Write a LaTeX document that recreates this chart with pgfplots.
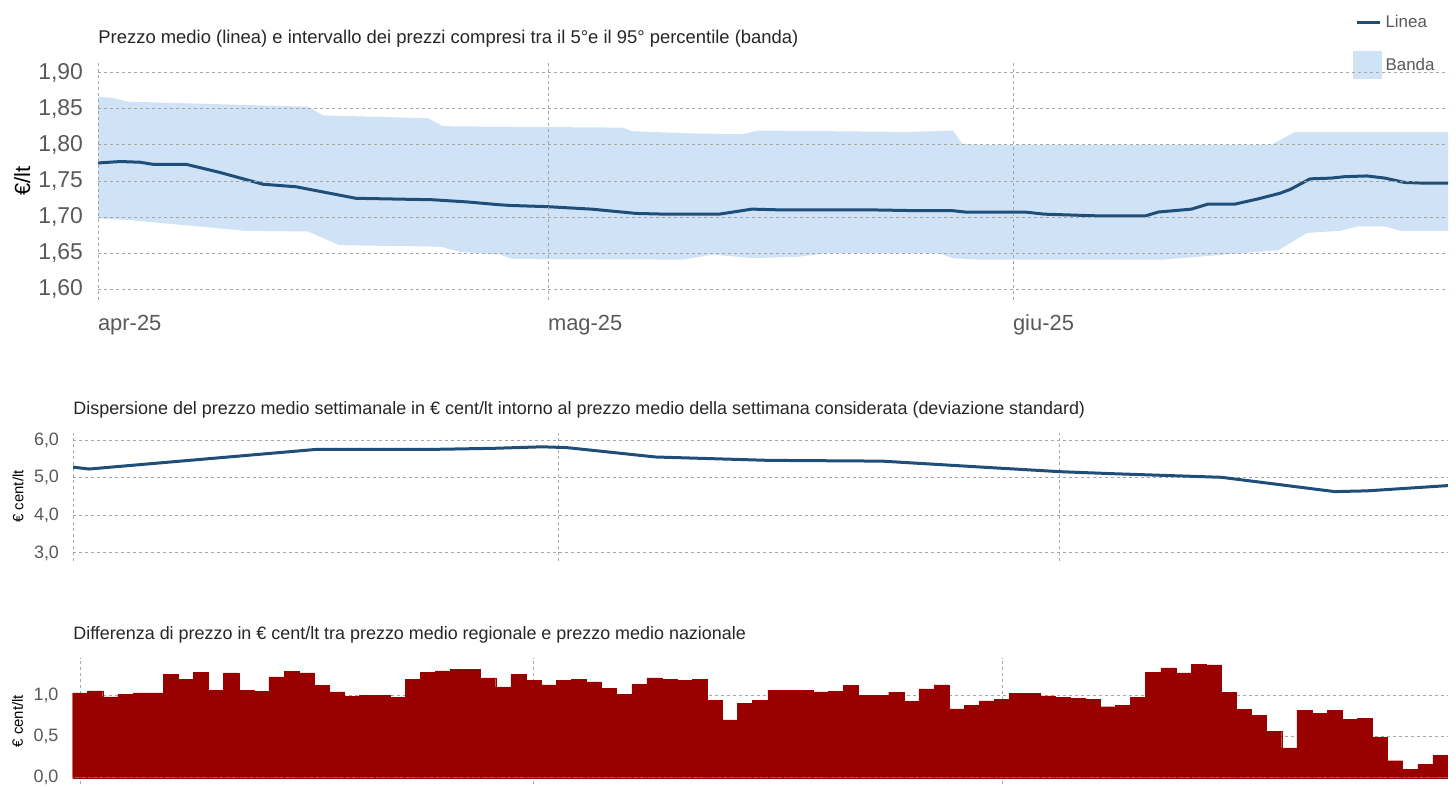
\documentclass[border=0pt]{standalone}
\usepackage{fontspec}
\setmainfont{Liberation Sans}
\usepackage{pgfplots}
\pgfplotsset{compat=1.18}
\usepgfplotslibrary{fillbetween}

\definecolor{linecol}{HTML}{1F4E79}
\definecolor{bandcol}{HTML}{CFE2F6}
\definecolor{barred}{HTML}{990000}
\definecolor{gridcol}{HTML}{A6A6A6}
\definecolor{tickcol}{HTML}{595959}
\definecolor{titlecol}{HTML}{262626}

\pgfplotsset{
  panel/.style={
    scale only axis,
    anchor=north west,
    axis line style={draw=none},
    major tick length=0pt,
    grid=major,
    major grid style={gridcol, line width=0.5bp, dash pattern=on 1.5bp off 1.5bp},
    tick label style={text=tickcol},
    scaled y ticks=false,
    /pgf/number format/assume math mode=true,
    /pgf/number format/use comma,
    /pgf/number format/fixed,
    /pgf/number format/fixed zerofill,
    xtick={0,30,61},
  },
}

\begin{document}
\begin{tikzpicture}

% --- prezzo medio e banda 5-95 percentile
\begin{axis}[panel, axis on top,
  at={(49bp,-31bp)}, width=675bp, height=119bp,
  xmin=0, xmax=90, ymin=1.585, ymax=1.915,
  xticklabels={apr-25,mag-25,giu-25},
  xticklabel style={anchor=north west, xshift=-3.5bp, yshift=-4bp, font=\fontsize{11}{13}\selectfont},
  ytick={1.6,1.65,1.7,1.75,1.8,1.85,1.9},
  yticklabel style={font=\fontsize{11.5}{13}\selectfont, xshift=-4bp, /pgf/number format/precision=2},
  ylabel={€/lt},
  ylabel style={at={(axis description cs:-0.056,0.5)}, anchor=center, font=\fontsize{11}{13}\selectfont, text=black},
  legend style={at={(axis description cs:0.9216,1.227)}, anchor=north west, draw=none, fill=white,
    font=\fontsize{8.5}{10}\selectfont, text=tickcol, row sep=7.5bp, inner xsep=5bp, inner ysep=0pt,
    /tikz/every even column/.append style={column sep=6bp}},
  legend cell align=left,
]
\addplot[name path=up, draw=none, forget plot] coordinates {
  (0,1.867) (1,1.865) (2,1.860) (14,1.853) (15,1.841) (22,1.837) (23,1.826)
  (28.5,1.825) (35,1.824) (35.6,1.819) (39.6,1.816) (43,1.815) (44,1.820)
  (54,1.818) (57,1.820) (57.6,1.802) (58.7,1.800) (78.2,1.800) (79.8,1.818) (90,1.818)
};
\addplot[name path=lo, draw=none, forget plot] coordinates {
  (0,1.698) (2,1.696) (9.8,1.681) (14,1.680) (16.1,1.661) (22.8,1.659) (24.1,1.652)
  (25.4,1.650) (26.8,1.648) (27.6,1.642) (39,1.641) (41,1.648) (43.6,1.643) (46.7,1.645)
  (48.7,1.650) (56,1.650) (57,1.643) (58.7,1.641) (71,1.641) (78.7,1.654) (80.6,1.678)
  (82.8,1.681) (84,1.687) (85.8,1.687) (86.8,1.681) (90,1.681)
};
\addplot[bandcol, forget plot] fill between[of=up and lo];
\addplot[linecol, line width=1.5bp, forget plot] coordinates {
  (0,1.775) (1.5,1.777) (2.8,1.776) (3.7,1.773) (5.9,1.773) (8.1,1.762) (11,1.7455)
  (13.2,1.742) (17.2,1.726) (22.3,1.724) (24.6,1.721) (26.8,1.717) (27.6,1.716)
  (29.9,1.7145) (32.9,1.711) (35.9,1.705) (37.9,1.704) (41.4,1.704) (43.6,1.711)
  (45.4,1.710) (51.4,1.710) (54.2,1.709) (56.9,1.709) (57.8,1.707) (61.8,1.707)
  (63.1,1.704) (66.9,1.7015) (69.8,1.7015) (70.7,1.707) (72.9,1.711) (74,1.718)
  (75.8,1.718) (77.3,1.725) (78.8,1.733) (79.5,1.7385) (80.8,1.753) (82.2,1.754)
  (83.1,1.756) (84.6,1.757) (85.8,1.754) (87.1,1.748) (88.4,1.747) (90,1.747)
};
\addlegendimage{legend image code/.code={
  \path[draw=none, fill=none] (0,-7bp) rectangle (14.5bp,7bp);
  \draw[linecol, line width=1.5bp] (2bp,0) -- (13.5bp,0);}}
\addlegendentry{Linea}
\addlegendimage{legend image code/.code={
  \fill[bandcol, draw=none] (0,-7bp) rectangle (14.5bp,7bp);}}
\addlegendentry{Banda}
\end{axis}

% --- deviazione standard settimanale
\begin{axis}[panel,
  at={(36.5bp,-216.25bp)}, width=687.5bp, height=64bp,
  xmin=0, xmax=85, ymin=2.8, ymax=6.2,
  xticklabels={},
  ytick={3,4,5,6},
  yticklabel style={font=\fontsize{9}{11}\selectfont, xshift=-3.5bp, /pgf/number format/precision=1},
  ylabel={€ cent/lt},
  ylabel style={at={(axis description cs:-0.04,0.5)}, anchor=center, font=\fontsize{7.5}{9}\selectfont, text=black},
]
\addplot[linecol, line width=1.5bp] coordinates {
  (0,5.28) (1,5.23) (15,5.75) (22,5.75) (26,5.78) (29,5.82) (30.5,5.80) (36,5.55)
  (43,5.46) (50,5.44) (57,5.26) (61,5.16) (64,5.11) (71,5.01) (78,4.63) (80,4.65) (85,4.79)
};
\end{axis}

% --- differenza regionale - nazionale
\begin{axis}[panel,
  at={(36.25bp,-329bp)}, width=687.75bp, height=63.15bp,
  xmin=-0.5, xmax=90.5, ymin=-0.08, ymax=1.45,
  xticklabels={},
  ytick={0,0.5,1},
  yticklabel style={font=\fontsize{9}{11}\selectfont, xshift=-3.5bp, /pgf/number format/precision=1},
  ylabel={€ cent/lt},
  ylabel style={at={(axis description cs:-0.04,0.5)}, anchor=center, font=\fontsize{7.5}{9}\selectfont, text=black},
]
\addplot[ybar, bar width=1, bar shift=0pt, fill=barred, draw=barred, line width=0.2bp] coordinates {
  (0,1.028) (1,1.052) (2,0.98) (3,1.008) (4,1.028) (5,1.028) (6,1.25) (7,1.19) (8,1.278) (9,1.06)
  (10,1.27) (11,1.06) (12,1.044) (13,1.22) (14,1.286) (15,1.27) (16,1.117) (17,1.04) (18,0.988) (19,1.0)
  (20,1.0) (21,0.972) (22,1.19) (23,1.274) (24,1.294) (25,1.31) (26,1.31) (27,1.21) (28,1.10) (29,1.25)
  (30,1.18) (31,1.125) (32,1.18) (33,1.19) (34,1.16) (35,1.085) (36,1.008) (37,1.133) (38,1.21) (39,1.19)
  (40,1.18) (41,1.19) (42,0.94) (43,0.70) (44,0.90) (45,0.94) (46,1.06) (47,1.06) (48,1.06) (49,1.04)
  (50,1.048) (51,1.117) (52,1.0) (53,1.0) (54,1.036) (55,0.927) (56,1.077) (57,1.125) (58,0.835) (59,0.88)
  (60,0.93) (61,0.95) (62,1.02) (63,1.02) (64,0.99) (65,0.97) (66,0.96) (67,0.95) (68,0.86) (69,0.88)
  (70,0.97) (71,1.28) (72,1.33) (73,1.27) (74,1.375) (75,1.367) (76,1.036) (77,0.827) (78,0.754) (79,0.565)
  (80,0.36) (81,0.82) (82,0.78) (83,0.82) (84,0.71) (85,0.72) (86,0.49) (87,0.206) (88,0.105) (89,0.165)
  (90,0.27)
};
\end{axis}

% titoli
\node[anchor=base west, text=titlecol, font=\fontsize{9.25}{11}\selectfont, inner sep=0pt] at (49bp,-21.5bp)
  {Prezzo medio (linea) e intervallo dei prezzi compresi tra il 5°e il 95° percentile (banda)};
\node[anchor=base west, text=titlecol, font=\fontsize{9}{11}\selectfont, inner sep=0pt] at (36.5bp,-207bp)
  {Dispersione del prezzo medio settimanale in € cent/lt intorno al prezzo medio della settimana considerata (deviazione standard)};
\node[anchor=base west, text=titlecol, font=\fontsize{9}{11}\selectfont, inner sep=0pt] at (36.5bp,-319.5bp)
  {Differenza di prezzo in € cent/lt tra prezzo medio regionale e prezzo medio nazionale};

\pgfresetboundingbox
\path[use as bounding box] (0,0) rectangle (728bp,-393.5bp);
\end{tikzpicture}
\end{document}
